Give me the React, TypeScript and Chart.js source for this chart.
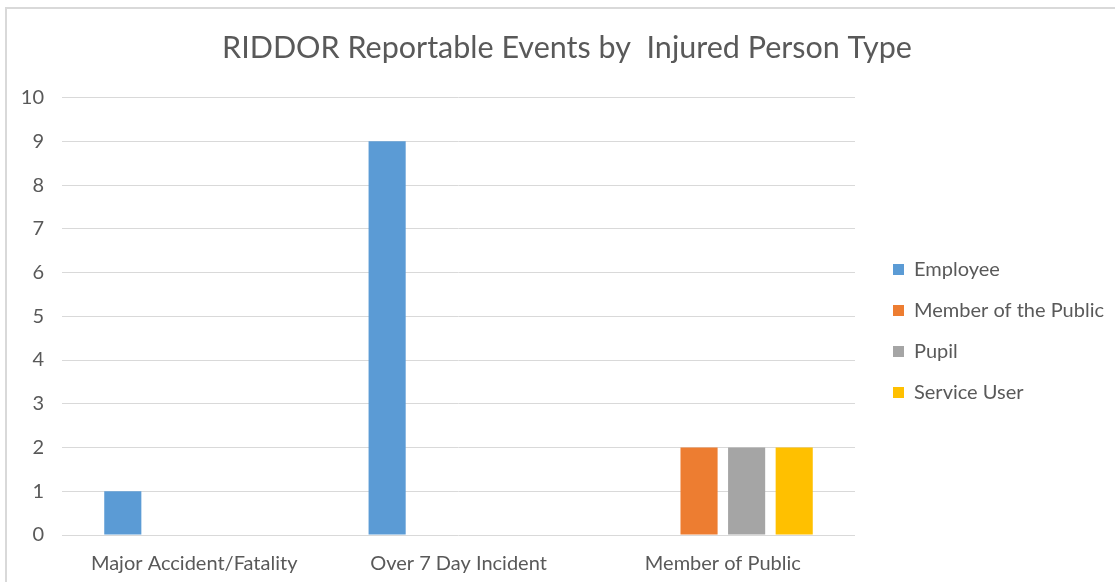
import React, { useEffect, useRef } from "react";
import { Chart, registerables } from "chart.js";

Chart.register(...registerables);

const categories = ["Major Accident/Fatality", "Over 7 Day Incident", "Member of Public"];
const employee = [1, 9, 0];
const memberOfThePublic = [0, 0, 2];
const pupil = [0, 0, 2];
const serviceUser = [0, 0, 2];
const seriesNames = ["Employee", "Member of the Public", "Pupil", "Service User"];
const seriesColors = ["#5B9BD5", "#ED7D31", "#A5A5A5", "#FFC000"];
const yTicks = [0, 1, 2, 3, 4, 5, 6, 7, 8, 9, 10];
const titleText = "RIDDOR Reportable Events by  Injured Person Type";

const FONT = "Lato, 'Open Sans', sans-serif";
const TEXT = "#595959";

const LEGEND_WIDTH = 259;
const LEGEND_SHIFT = 17;

const legendPlacement = {
  id: "legendPlacement",
  beforeLayout(chart: any) {
    const legend = chart.legend;
    if (!legend || legend.__patched) return;
    legend.__patched = true;
    const origFit = legend.fit;
    legend.fit = function () {
      origFit.call(this);
      this.width = LEGEND_WIDTH;
    };
    const origDraw = legend.draw;
    legend.draw = function () {
      const ctx = this.ctx;
      ctx.save();
      ctx.translate(LEGEND_SHIFT, 0);
      origDraw.call(this);
      ctx.restore();
    };
  },
};

export default function App() {
  const ref = useRef<HTMLCanvasElement | null>(null);

  useEffect(() => {
    if (!ref.current) return;
    const values = [employee, memberOfThePublic, pupil, serviceUser];
    const chart = new Chart(ref.current, {
      type: "bar",
      data: {
        labels: categories,
        datasets: values.map((v, i) => ({
          label: seriesNames[i],
          data: v,
          backgroundColor: seriesColors[i],
          borderWidth: 0,
          categoryPercentage: 0.72,
          barPercentage: 0.78,
        })),
      },
      options: {
        animation: false,
        responsive: false,
        maintainAspectRatio: false,
        layout: { padding: { left: 20, right: 1, top: 0, bottom: 0 } },
        plugins: {
          title: {
            display: true,
            text: titleText,
            color: TEXT,
            font: { family: FONT, size: 30.5, weight: "normal" },
            padding: { top: 30, bottom: 31 },
          },
          legend: {
            position: "right",
            align: "center",
            title: { display: true, text: "", font: { size: 10 }, padding: { top: 68, bottom: 0 } },
            labels: {
              color: TEXT,
              font: { family: FONT, size: 20 },
              boxWidth: 11,
              boxHeight: 11,
              padding: 21,
            },
          },
          tooltip: { enabled: false },
        },
        scales: {
          x: {
            grid: { display: false },
            border: { display: false },
            ticks: { color: TEXT, font: { family: FONT, size: 20 }, padding: 9, maxRotation: 0 },
            afterFit: (s: any) => { s.height = 47; },
          },
          y: {
            min: yTicks[0],
            max: yTicks[yTicks.length - 1],
            ticks: { stepSize: 1, color: TEXT, font: { family: FONT, size: 20 }, padding: 18 },
            grid: { color: "#D9D9D9", drawTicks: false },
            border: { display: false },
            afterFit: (s: any) => { s.width = 42; },
          },
        },
      },
      plugins: [legendPlacement],
    });
    return () => chart.destroy();
  }, []);

  return (
    <div style={{ position: "fixed", left: 0, top: 0, width: 1115, height: 582, background: "#fff" }}>
      <canvas ref={ref} width={1115} height={582} style={{ position: "absolute", left: 0, top: 0 }} />
      <div
        style={{
          position: "absolute",
          left: 5,
          top: 7,
          width: 1115,
          height: 600,
          borderLeft: "2px solid #D9D9D9",
          borderTop: "2px solid #D9D9D9",
          pointerEvents: "none",
        }}
      />
    </div>
  );
}
